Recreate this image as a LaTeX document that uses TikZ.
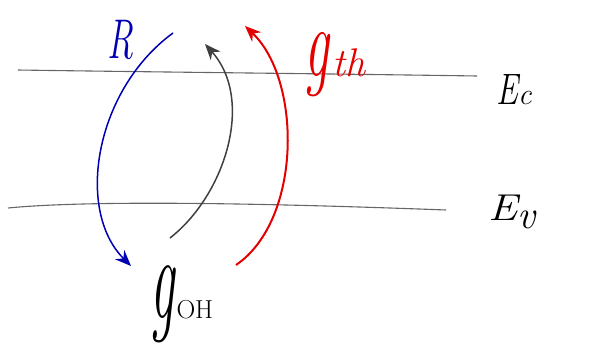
\documentclass[tikz,border=0pt]{standalone}
\usetikzlibrary{arrows.meta}
\begin{document}
\begin{tikzpicture}[x=1pt,y=-1pt,
  band/.style={draw=black!60, line width=1.1pt},
  trans/.style={line width=1.5pt, -{Stealth[length=16pt,width=13pt]}},
  lab/.style={inner sep=0pt}]
\useasboundingbox (0,0) rectangle (601,356);
% band edges
\coordinate (ecL) at (18,70);
\coordinate (ecR) at (477,76);
\coordinate (evL) at (8,208);
\coordinate (evR) at (446,210);
\draw[band] (ecL) .. controls (150,72) and (350,74) .. (ecR);
\draw[band] (evL) .. controls (90,200) and (260,203) .. (evR);
% labels
\node[lab, text=blue!70!black, font=\fontsize{56}{56}\selectfont\itshape] (R) at (120,40) {\scalebox{0.65}[1]{R}};
\node[lab, text=red!90!black, font=\fontsize{100}{100}\selectfont\itshape, anchor=base west] (gth) at (304,76) {\scalebox{0.55}[1]{g}\hspace{4pt}\fontsize{40}{40}\selectfont th};
\node[lab, font=\fontsize{44}{44}\selectfont\itshape, anchor=base west] (ec) at (496,104) {\scalebox{0.75}[1]{E}\fontsize{30}{30}\selectfont c};
\node[lab, font=\fontsize{44}{44}\selectfont\itshape, anchor=base west] (ev) at (488,220) {\scalebox{1}[0.85]{E}\fontsize{40}{40}\selectfont\raisebox{-8pt}{v}};
\node[lab, font=\fontsize{120}{120}\selectfont\itshape, anchor=base west] (goh) at (150,318) {\scalebox{0.45}[1]{g}\hspace{2pt}\fontsize{26}{26}\selectfont\textup{OH}};
% transitions
\coordinate (bS) at (173,33);
\coordinate (bE) at (131,266);
\draw[trans, draw=blue!70!black] (bS) .. controls (95,90) and (75,210) .. (bE);
\coordinate (kS) at (170,238);
\coordinate (kE) at (205,44);
\draw[trans, draw=black!75] (kS) .. controls (225,195) and (255,100) .. (kE);
\coordinate (rS) at (236,265);
\coordinate (rE) at (245,26);
\draw[trans, draw=red!90!black, line width=2pt] (rS) .. controls (302,220) and (302,80) .. (rE);
\end{tikzpicture}
\end{document}
